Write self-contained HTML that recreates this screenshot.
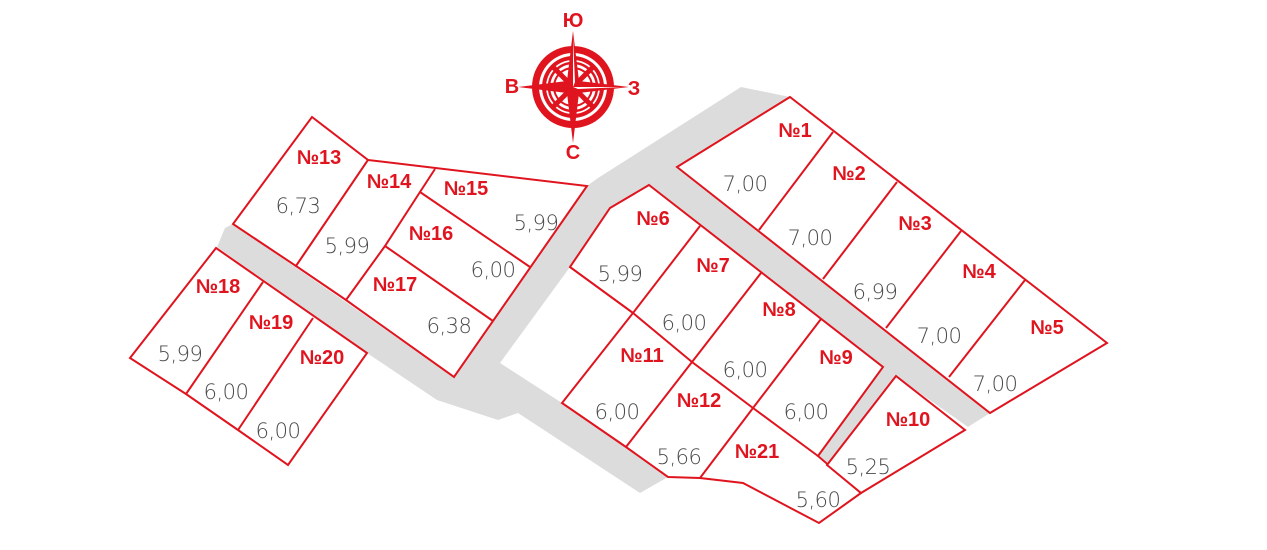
<!DOCTYPE html>
<html><head><meta charset="utf-8"><style>
html,body{margin:0;padding:0;background:#fff;}
svg{display:block;}
.n{font-family:"Liberation Sans",sans-serif;font-weight:bold;font-size:20px;fill:#e0141e;}
.v{font-family:"DejaVu Sans","Liberation Sans",sans-serif;font-weight:200;font-size:21px;fill:#4a4a4a;letter-spacing:-0.5px;}
.p{fill:#fff;stroke:#e0141e;stroke-width:2;stroke-linejoin:miter;}
.l{fill:none;stroke:#e0141e;stroke-width:2;}
</style></head><body>
<svg width="1267" height="550" viewBox="0 0 1267 550" xmlns="http://www.w3.org/2000/svg">
<polygon fill="#dcdcdc" points="225,228 233,224 454,377 587,186 598,178 741,87 790,97 677,167 990,413 968,427 883,367 649,185 610,208 570,267 500,363 562,403 626,447 668,477 640,493 518,413 498,420 437,400 367,353 217,247"/>
<polygon fill="#dcdcdc" points="883,367 896,376 827,465 818,456"/>
<polygon class="p" points="312,117 368,160 296,266 233,224"/>
<polygon class="p" points="368,160 587,186 454,377 346,300 296,266"/>
<polyline class="l" points="435,169 420,192 385,246 346,300"/>
<line class="l" x1="420" y1="192" x2="530" y2="267"/>
<line class="l" x1="385" y1="246" x2="493" y2="321"/>
<polygon class="p" points="216,248 367,353 288,465 238,430 186,394 130,358"/>
<line class="l" x1="263" y1="282" x2="186" y2="394"/>
<line class="l" x1="313" y1="318" x2="238" y2="430"/>
<polygon class="p" points="790,97 1107,343 990,413 677,167"/>
<line class="l" x1="833" y1="132" x2="759" y2="230"/>
<line class="l" x1="897" y1="182" x2="823" y2="279"/>
<line class="l" x1="961" y1="231" x2="886" y2="328"/>
<line class="l" x1="1025" y1="280" x2="949" y2="377"/>
<polygon class="p" points="649,185 883,367 818,456 861,493 819,523 743,483 700,478 668,477 626,447 562,403 633,313 570,267 610,208"/>
<polygon class="p" points="896,376 965,430 861,493 827,465"/>
<polyline class="l" points="570,267 633,313 692,362 753,408 818,456"/>
<polyline class="l" points="700,226 633,313"/>
<polyline class="l" points="761,273 692,362 626,447"/>
<polyline class="l" points="821,319 753,408 700,478"/>
<g transform="translate(573,87)">
<circle r="41" fill="#e0141e"/>
<circle r="34" fill="#fff"/>
<circle r="31" fill="#e0141e"/>
<circle r="27" fill="#fff"/>
<circle r="24" fill="none" stroke="#e0141e" stroke-width="2.5"/>
<circle r="19" fill="none" stroke="#e0141e" stroke-width="2"/>
<g stroke="#e0141e" stroke-width="5"><line x1="-20" y1="-20" x2="20" y2="20"/><line x1="-20" y1="20" x2="20" y2="-20"/></g>
<polygon fill="#e0141e" points="0,-56 6,-6 0,0 -6,-6"/>
<polygon fill="#e0141e" points="0,56 6,6 0,0 -6,6"/>
<polygon fill="#e0141e" points="-55,0 -6,-6 0,0 -6,6"/>
<polygon fill="#e0141e" points="56,0 6,-6 0,0 6,6"/>
<polygon fill="#fff" points="0,-50 2,-5 0,0"/>
<polygon fill="#fff" points="50,0 5,2 0,0"/>
</g>
<text class="n" x="573" y="27" text-anchor="middle" font-size="17">Ю</text>
<text class="n" x="512" y="93" text-anchor="middle" font-size="17">В</text>
<text class="n" x="634" y="95" text-anchor="middle" font-size="17">З</text>
<text class="n" x="573" y="159" text-anchor="middle" font-size="17">С</text>
<g class="n" text-anchor="middle">
<text x="319" y="164">№13</text><text x="389" y="188">№14</text><text x="466" y="195">№15</text>
<text x="431" y="240">№16</text><text x="395" y="291">№17</text><text x="218" y="293">№18</text>
<text x="271" y="329">№19</text><text x="322" y="364">№20</text>
<text x="795" y="137">№1</text><text x="849" y="180">№2</text><text x="915" y="230">№3</text>
<text x="979" y="278">№4</text><text x="1047" y="334">№5</text>
<text x="653" y="225">№6</text><text x="713" y="272">№7</text><text x="779" y="316">№8</text>
<text x="836" y="364">№9</text><text x="908" y="426">№10</text><text x="642" y="362">№11</text>
<text x="699" y="407">№12</text><text x="757" y="458">№21</text>
</g>
<g class="v" text-anchor="middle">
<text x="298" y="213">6,73</text><text x="347" y="253">5,99</text><text x="536" y="230">5,99</text>
<text x="493" y="277">6,00</text><text x="449" y="333">6,38</text><text x="180" y="361">5,99</text>
<text x="226" y="399">6,00</text><text x="278" y="438">6,00</text>
<text x="745" y="191">7,00</text><text x="810" y="245">7,00</text><text x="875" y="299">6,99</text>
<text x="939" y="343">7,00</text><text x="995" y="391">7,00</text>
<text x="620" y="281">5,99</text><text x="684" y="330">6,00</text><text x="745" y="377">6,00</text>
<text x="806" y="419">6,00</text><text x="617" y="419">6,00</text><text x="679" y="464">5,66</text>
<text x="868" y="474">5,25</text><text x="818" y="507">5,60</text>
</g>
</svg>
</body></html>
